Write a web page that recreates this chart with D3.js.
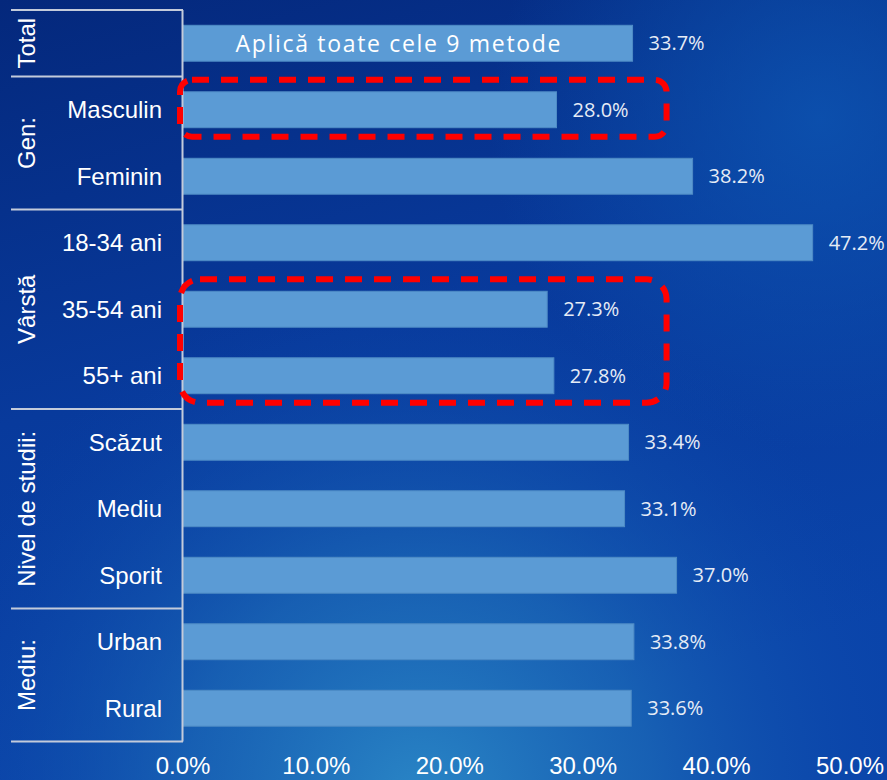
<!DOCTYPE html>
<head>
	<script src="https://d3js.org/d3.v7.min.js"></script>
	<style>
		body {
			margin: 0;
			background: #0a3a98;
		}
		.cat { font-family: "Liberation Sans", Arial; font-size: 24px; fill: #fff; }
		.grp { font-family: "Liberation Sans", Arial; font-size: 24px; fill: #fff; }
		.tick { font-family: "Liberation Sans", Arial; font-size: 24px; fill: #fff; }
		.val { font-family: "Open Sans"; font-size: 20px; fill: #e6ecf6; }
		.note { font-family: "Open Sans"; font-size: 23px; fill: #fff; }
		.bar { fill: #5b9bd5; stroke: #4f8cc6; stroke-width: 1; }
	</style>
</head>
<body>
	<script>
		var categories = ["Total", "Masculin", "Feminin", "18-34 ani", "35-54 ani", "55+ ani", "Scăzut", "Mediu", "Sporit", "Urban", "Rural"];
		var values = [33.7, 28.0, 38.2, 47.2, 27.3, 27.8, 33.4, 33.1, 37.0, 33.8, 33.6];
		var groups = ["Total", "Gen:", "Vârstă", "Nivel de studii:", "Mediu:"];
		var groupSizes = [1, 2, 3, 3, 2];
		var ticks = [0, 10, 20, 30, 40, 50];
		var totalNote = "Aplică toate cele 9 metode";
		var highlights = [["Masculin"], ["35-54 ani", "55+ ani"]];

		var width = 887, height = 780;
		var top0 = 10, bottom0 = 741.5;

		var svg = d3.select("body").append("svg")
			.attr("width", width)
			.attr("height", height);

		// background
		var defs = svg.append("defs");
		var lin = defs.append("linearGradient").attr("id", "bg")
			.attr("x1", 0).attr("y1", 0).attr("x2", 0.3).attr("y2", 1);
		lin.append("stop").attr("offset", 0).attr("stop-color", "#04287c");
		lin.append("stop").attr("offset", 0.5).attr("stop-color", "#083a9c");
		lin.append("stop").attr("offset", 1).attr("stop-color", "#0a44aa");
		var rad = defs.append("radialGradient").attr("id", "glow")
			.attr("gradientUnits", "userSpaceOnUse")
			.attr("cx", 420).attr("cy", 800).attr("r", 520);
		rad.append("stop").attr("offset", 0).attr("stop-color", "#2a86c6").attr("stop-opacity", 1);
		rad.append("stop").attr("offset", 0.45).attr("stop-color", "#1d6cb8").attr("stop-opacity", 0.7);
		rad.append("stop").attr("offset", 1).attr("stop-color", "#0a44aa").attr("stop-opacity", 0);
		var rad2 = defs.append("radialGradient").attr("id", "glow2")
			.attr("gradientUnits", "userSpaceOnUse")
			.attr("cx", 820).attr("cy", 120).attr("r", 330);
		rad2.append("stop").attr("offset", 0).attr("stop-color", "#0d55b2").attr("stop-opacity", 0.8);
		rad2.append("stop").attr("offset", 1).attr("stop-color", "#0d55b2").attr("stop-opacity", 0);

		svg.append("rect").attr("width", width).attr("height", height).attr("fill", "url(#bg)");
		svg.append("rect").attr("width", width).attr("height", height).attr("fill", "url(#glow)");
		svg.append("rect").attr("width", width).attr("height", height).attr("fill", "url(#glow2)");

		// scales
		var x = d3.scaleLinear().domain([0, 50]).range([183, 850]);
		var y = d3.scaleBand().domain(categories).range([top0, bottom0])
			.paddingInner(0.46).paddingOuter(0.23);
		var step = y.step();

		// bars
		svg.selectAll(".bar")
			.data(categories)
			.enter().append("rect")
			.attr("class", "bar")
			.attr("x", x(0))
			.attr("y", d => y(d))
			.attr("width", (d, i) => x(values[i]) - x(0))
			.attr("height", y.bandwidth());

		// value labels
		svg.selectAll(".val")
			.data(categories)
			.enter().append("text")
			.attr("class", "val")
			.attr("x", (d, i) => x(values[i]) + 16)
			.attr("y", d => y(d) + y.bandwidth() / 2)
			.attr("dy", "0.36em")
			.text((d, i) => values[i].toFixed(1) + "%");

		// note inside total bar
		svg.append("text")
			.attr("class", "note")
			.attr("x", 398)
			.attr("y", y("Total") + y.bandwidth() / 2)
			.attr("dy", "0.36em")
			.attr("text-anchor", "middle")
			.attr("textLength", 325)
			.attr("lengthAdjust", "spacing")
			.text(totalNote);

		// category labels
		svg.selectAll(".cat")
			.data(categories.slice(1))
			.enter().append("text")
			.attr("class", "cat")
			.attr("x", 162)
			.attr("y", d => y(d) + y.bandwidth() / 2)
			.attr("dy", "0.35em")
			.attr("text-anchor", "end")
			.text(d => d);

		// group separators and labels
		var lineColor = "#c3cbdb";
		svg.append("line")
			.attr("x1", 182.5).attr("x2", 182.5)
			.attr("y1", top0).attr("y2", bottom0)
			.attr("stroke", lineColor).attr("stroke-width", 2);
		var cum = 0;
		var bounds = [top0];
		groupSizes.forEach(function(n) { cum += n; bounds.push(top0 + cum * step); });
		svg.selectAll(".sep")
			.data(bounds)
			.enter().append("line")
			.attr("x1", 11).attr("x2", 183)
			.attr("y1", d => d).attr("y2", d => d)
			.attr("stroke", lineColor).attr("stroke-width", 2);
		svg.selectAll(".grp")
			.data(groups)
			.enter().append("text")
			.attr("class", "grp")
			.attr("text-anchor", "middle")
			.attr("dy", "0.35em")
			.attr("transform", (d, i) => "translate(27," + (bounds[i] + bounds[i + 1]) / 2 + ") rotate(-90)")
			.text(d => d);

		// x tick labels
		svg.selectAll(".tick")
			.data(ticks)
			.enter().append("text")
			.attr("class", "tick")
			.attr("x", d => x(d))
			.attr("y", 774)
			.attr("text-anchor", "middle")
			.text(d => d.toFixed(1) + "%");

		// highlight boxes
		svg.selectAll(".hl")
			.data(highlights)
			.enter().append("rect")
			.attr("x", x(0) - 3)
			.attr("y", d => y(d[0]) - 12)
			.attr("width", x(36.25) - x(0) + 3)
			.attr("height", d => y(d[d.length - 1]) + y.bandwidth() - y(d[0]) + 21)
			.attr("rx", d => d.length > 1 ? 20 : 12)
			.attr("fill", "none")
			.attr("stroke", "#ff0000")
			.attr("stroke-width", 6)
			.attr("stroke-dasharray", "17,12");
	</script>
</body>
</html>
